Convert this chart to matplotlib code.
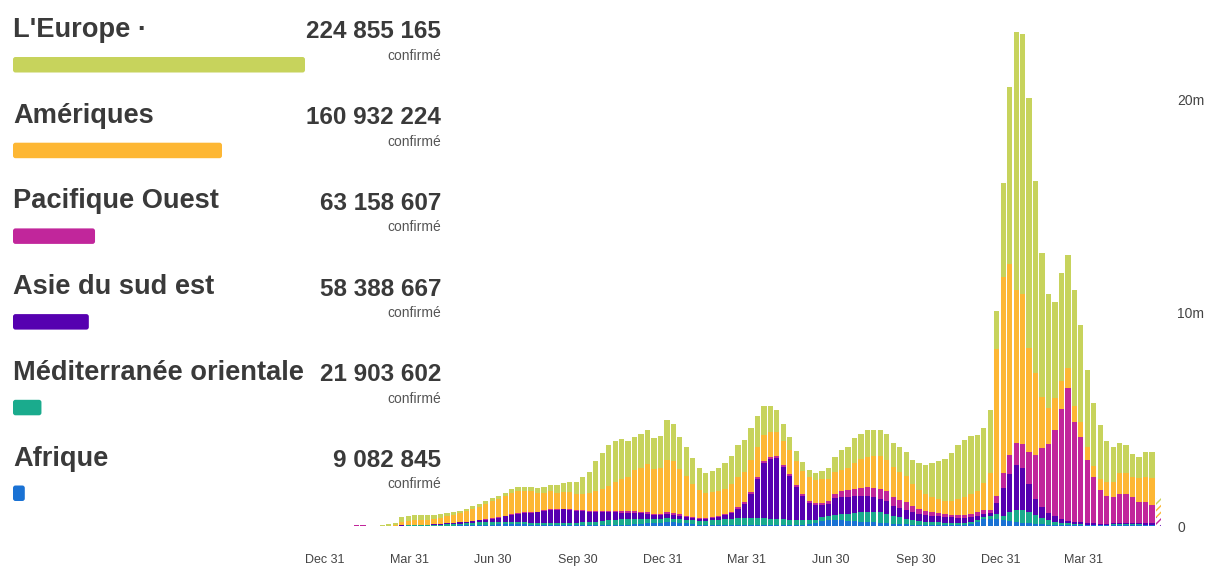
import datetime as dt

import matplotlib
matplotlib.use("Agg")
import matplotlib.pyplot as plt
import matplotlib.dates as mdates
from matplotlib.patches import FancyBboxPatch

plt.rcParams['font.family'] = ['Liberation Sans', 'DejaVu Sans']

# ---------------------------------------------------------------- data
regions = ["L'Europe ·", "Amériques", "Pacifique Ouest", "Asie du sud est",
           "Méditerranée orientale", "Afrique"]
confirmed = [224855165, 160932224, 63158607, 58388667, 21903602, 9082845]
region_colors = ["#c7d35c", "#fdb734", "#c1269b", "#5600b0", "#1aab8d", "#1a72d4"]

first_week = dt.date(2020, 1, 6)
n_weeks = 129
weeks = [first_week + dt.timedelta(weeks=i) for i in range(n_weeks)]

# weekly new cases, millions
europe = [
    0, 0, 0, 0, 0, 0, 0.001, 0.005, 0.015, 0.05,
    0.10, 0.24, 0.25, 0.24, 0.22, 0.20, 0.18, 0.16, 0.14, 0.13,
    0.12, 0.12, 0.12, 0.12, 0.13, 0.13, 0.13, 0.14, 0.15, 0.16,
    0.18, 0.20, 0.22, 0.25, 0.30, 0.35, 0.42, 0.50, 0.58, 0.80,
    1.02, 1.44, 1.68, 1.90, 1.95, 1.85, 1.68, 1.55, 1.60, 1.62,
    1.45, 1.50, 1.88, 1.75, 1.50, 1.35, 1.20, 1.00, 0.90, 0.98,
    1.05, 1.18, 1.35, 1.50, 1.50, 1.50, 1.45, 1.38, 1.25, 1.05,
    0.80, 0.62, 0.48, 0.40, 0.35, 0.33, 0.37, 0.48, 0.70, 0.92,
    1.00, 1.15, 1.18, 1.24, 1.22, 1.24, 1.20, 1.15, 1.15, 1.15,
    1.15, 1.25, 1.38, 1.62, 1.80, 1.95, 2.25, 2.55, 2.65, 2.72,
    2.62, 2.60, 2.95, 1.80, 4.40, 8.30, 12.10, 12.20, 11.76, 9.00,
    6.73, 5.36, 4.50, 5.10, 5.30, 5.45, 4.54, 3.62, 2.99, 2.55,
    1.92, 1.61, 1.44, 1.31, 1.09, 1.00, 1.18, 1.24, 0.31]
americas = [
    0, 0, 0, 0, 0, 0, 0, 0.001, 0.002, 0.006,
    0.03, 0.14, 0.19, 0.21, 0.22, 0.23, 0.25, 0.28, 0.33, 0.37,
    0.42, 0.49, 0.55, 0.62, 0.74, 0.84, 0.88, 0.95, 1.03, 1.05,
    1.00, 0.98, 0.87, 0.84, 0.83, 0.78, 0.80, 0.79, 0.76, 0.78,
    0.82, 0.93, 1.06, 1.20, 1.35, 1.52, 1.62, 1.92, 2.05, 2.25,
    2.10, 2.15, 2.45, 2.45, 2.15, 1.88, 1.54, 1.32, 1.19, 1.18,
    1.18, 1.19, 1.27, 1.43, 1.43, 1.50, 1.45, 1.20, 1.15, 1.10,
    1.10, 1.12, 1.10, 1.08, 1.10, 1.10, 1.12, 1.05, 1.00, 1.02,
    1.05, 1.22, 1.35, 1.44, 1.50, 1.53, 1.50, 1.38, 1.32, 1.23,
    1.00, 0.87, 0.77, 0.70, 0.68, 0.64, 0.66, 0.73, 0.85, 0.92,
    1.00, 1.25, 1.75, 6.90, 9.22, 8.95, 7.20, 7.05, 4.87, 3.85,
    2.39, 1.71, 1.50, 1.30, 0.94, 0.75, 0.71, 0.60, 0.50, 0.50,
    0.70, 0.70, 0.97, 0.97, 0.93, 1.11, 1.17, 1.26, 0.55]
western_pacific = [
    0, 0.0005, 0.003, 0.012, 0.025, 0.030, 0.012, 0.004, 0.003, 0.004,
    0.005, 0.010, 0.010, 0.010, 0.012, 0.010, 0.008, 0.008, 0.008, 0.006,
    0.006, 0.005, 0.006, 0.006, 0.007, 0.010, 0.015, 0.020, 0.030, 0.035,
    0.040, 0.040, 0.040, 0.035, 0.030, 0.025, 0.025, 0.025, 0.030, 0.030,
    0.030, 0.035, 0.040, 0.050, 0.060, 0.070, 0.080, 0.080, 0.080, 0.080,
    0.070, 0.070, 0.080, 0.080, 0.070, 0.060, 0.050, 0.040, 0.040, 0.040,
    0.040, 0.050, 0.050, 0.060, 0.070, 0.080, 0.090, 0.10, 0.10, 0.10,
    0.11, 0.10, 0.10, 0.09, 0.09, 0.10, 0.12, 0.15, 0.20, 0.25,
    0.29, 0.33, 0.38, 0.42, 0.46, 0.48, 0.46, 0.42, 0.38, 0.34,
    0.28, 0.24, 0.20, 0.16, 0.14, 0.13, 0.13, 0.13, 0.14, 0.16,
    0.17, 0.17, 0.16, 0.30, 0.70, 0.90, 1.05, 1.15, 1.50, 2.10,
    2.80, 3.20, 4.05, 5.17, 6.21, 4.70, 4.03, 2.96, 2.18, 1.58,
    1.27, 1.26, 1.38, 1.37, 1.25, 1.02, 1.02, 0.86, 0.38]
south_east_asia = [
    0, 0, 0, 0, 0, 0, 0, 0, 0.0005, 0.001,
    0.001, 0.005, 0.007, 0.010, 0.012, 0.015, 0.025, 0.030, 0.038, 0.045,
    0.060, 0.075, 0.095, 0.11, 0.12, 0.15, 0.19, 0.24, 0.30, 0.37,
    0.42, 0.47, 0.50, 0.56, 0.62, 0.63, 0.64, 0.61, 0.55, 0.53,
    0.50, 0.46, 0.42, 0.38, 0.35, 0.32, 0.29, 0.27, 0.25, 0.22,
    0.19, 0.18, 0.18, 0.16, 0.15, 0.14, 0.12, 0.11, 0.11, 0.12,
    0.15, 0.20, 0.29, 0.45, 0.66, 1.12, 1.81, 2.60, 2.80, 2.86,
    2.46, 2.07, 1.58, 1.16, 0.82, 0.67, 0.55, 0.55, 0.79, 0.82,
    0.80, 0.78, 0.76, 0.72, 0.66, 0.62, 0.58, 0.48, 0.44, 0.43,
    0.39, 0.34, 0.31, 0.31, 0.28, 0.26, 0.26, 0.26, 0.24, 0.21,
    0.17, 0.15, 0.14, 0.55, 1.30, 1.80, 2.10, 1.93, 1.30, 0.75,
    0.50, 0.35, 0.25, 0.18, 0.13, 0.10, 0.08, 0.07, 0.06, 0.05,
    0.05, 0.045, 0.04, 0.04, 0.04, 0.04, 0.05, 0.07, 0.04]
eastern_med = [
    0, 0, 0, 0, 0, 0, 0.001, 0.003, 0.006, 0.009,
    0.012, 0.020, 0.020, 0.025, 0.030, 0.035, 0.045, 0.055, 0.065, 0.080,
    0.090, 0.10, 0.11, 0.12, 0.13, 0.13, 0.12, 0.12, 0.11, 0.10,
    0.10, 0.09, 0.09, 0.09, 0.10, 0.10, 0.11, 0.12, 0.13, 0.14,
    0.15, 0.17, 0.20, 0.22, 0.24, 0.26, 0.28, 0.26, 0.24, 0.22,
    0.19, 0.18, 0.19, 0.18, 0.17, 0.17, 0.17, 0.17, 0.17, 0.20,
    0.23, 0.26, 0.28, 0.30, 0.32, 0.33, 0.32, 0.31, 0.29, 0.28,
    0.25, 0.22, 0.20, 0.19, 0.18, 0.18, 0.20, 0.22, 0.25, 0.29,
    0.33, 0.40, 0.45, 0.48, 0.50, 0.50, 0.44, 0.37, 0.31, 0.26,
    0.22, 0.19, 0.16, 0.14, 0.13, 0.12, 0.11, 0.10, 0.10, 0.10,
    0.10, 0.10, 0.10, 0.20, 0.20, 0.40, 0.55, 0.62, 0.55, 0.40,
    0.30, 0.22, 0.15, 0.10, 0.08, 0.06, 0.05, 0.04, 0.03, 0.03,
    0.025, 0.025, 0.02, 0.02, 0.02, 0.02, 0.02, 0.02, 0.01]
africa = [
    0, 0, 0, 0, 0, 0, 0, 0, 0, 0.0005,
    0.001, 0.003, 0.004, 0.005, 0.006, 0.008, 0.010, 0.013, 0.017, 0.020,
    0.025, 0.030, 0.040, 0.045, 0.055, 0.065, 0.075, 0.090, 0.10, 0.10,
    0.08, 0.07, 0.05, 0.045, 0.04, 0.035, 0.035, 0.035, 0.03, 0.03,
    0.03, 0.035, 0.04, 0.05, 0.05, 0.05, 0.05, 0.08, 0.10, 0.12,
    0.12, 0.15, 0.20, 0.17, 0.15, 0.12, 0.09, 0.07, 0.06, 0.06,
    0.06, 0.06, 0.06, 0.06, 0.06, 0.06, 0.06, 0.06, 0.06, 0.06,
    0.06, 0.06, 0.06, 0.07, 0.09, 0.12, 0.22, 0.26, 0.28, 0.27,
    0.25, 0.23, 0.21, 0.20, 0.18, 0.16, 0.14, 0.11, 0.09, 0.08,
    0.06, 0.05, 0.04, 0.04, 0.04, 0.03, 0.03, 0.03, 0.04, 0.10,
    0.20, 0.33, 0.35, 0.35, 0.28, 0.25, 0.20, 0.15, 0.12, 0.10,
    0.08, 0.06, 0.05, 0.05, 0.04, 0.04, 0.035, 0.03, 0.03, 0.03,
    0.04, 0.05, 0.06, 0.07, 0.07, 0.06, 0.05, 0.04, 0.01]

tick_dates = [dt.date(2019, 12, 31), dt.date(2020, 3, 31), dt.date(2020, 6, 30),
              dt.date(2020, 9, 30), dt.date(2020, 12, 31), dt.date(2021, 3, 31),
              dt.date(2021, 6, 30), dt.date(2021, 9, 30), dt.date(2021, 12, 31),
              dt.date(2022, 3, 31)]
y_ticks = [0, 10, 20]
y_tick_labels = ["0", "10m", "20m"]

# ---------------------------------------------------------------- figure
W, H = 1208, 566
fig = plt.figure(figsize=(W / 100, H / 100), dpi=100)
fig.patch.set_facecolor("white")

# stacked weekly bars
ax = fig.add_axes([325 / W, 40 / H, 840 / W, 526 / H])
ax.patch.set_visible(False)
x = mdates.date2num(weeks)
stack = [africa, eastern_med, south_east_asia, western_pacific, americas, europe]
stack_colors = region_colors[::-1]
bar_w = 5.7
bottom = [0.0] * n_weeks
for series, col in zip(stack, stack_colors):
    full = slice(0, n_weeks - 1)
    ax.bar(x[full], series[full], bottom=bottom[full], width=bar_w,
           color=col, linewidth=0, align="center")
    # the current, incomplete week is drawn hatched
    ax.bar(x[-1], series[-1], bottom=bottom[-1], width=bar_w, facecolor="white",
           edgecolor=col, hatch="/////", linewidth=0, align="center")
    bottom = [b + v for b, v in zip(bottom, series)]

x0 = mdates.date2num(dt.date(2019, 12, 31))
ax.set_xlim(x0, x0 + 840 / 0.924)
ax.set_ylim(0, 526 / 21.3)
for s in ax.spines.values():
    s.set_visible(False)
ax.set_xticks(mdates.date2num(tick_dates))
ax.xaxis.set_major_formatter(mdates.DateFormatter("%b %d"))
ax.tick_params(axis="x", length=0, pad=20, labelsize=9, labelcolor="#444444")
ax.yaxis.tick_right()
ax.set_yticks(y_ticks)
ax.set_yticklabels(y_tick_labels)
ax.tick_params(axis="y", length=0, pad=9, labelsize=10, labelcolor="#444444")
ax.grid(False)

# left panel: region names, totals and proportional bars (pixel coordinates)
ov = fig.add_axes([0, 0, 1, 1])
ov.set_xlim(0, W)
ov.set_ylim(H, 0)
ov.axis("off")
ov.patch.set_visible(False)

px_per_case = 292 / confirmed[0]
row_step = 85.7
for i, (name, val, col) in enumerate(zip(regions, confirmed, region_colors)):
    y0 = i * row_step
    ov.text(13, 30 + y0, name, fontsize=19.6, fontweight="bold", color="#3a3a3a",
            ha="left", va="center")
    ov.text(441, 32 + y0, f"{val:,}".replace(",", " "), fontsize=17.5,
            fontweight="bold", color="#3a3a3a", ha="right", va="center")
    ov.text(441, 56 + y0, "confirmé", fontsize=10, color="#555555",
            ha="right", va="center")
    ov.add_patch(FancyBboxPatch((13, 57 + y0), val * px_per_case, 15.5,
                                boxstyle="round,pad=0,rounding_size=2.5",
                                facecolor=col, edgecolor="none"))

fig.savefig("out.png", dpi=100, facecolor="white")
